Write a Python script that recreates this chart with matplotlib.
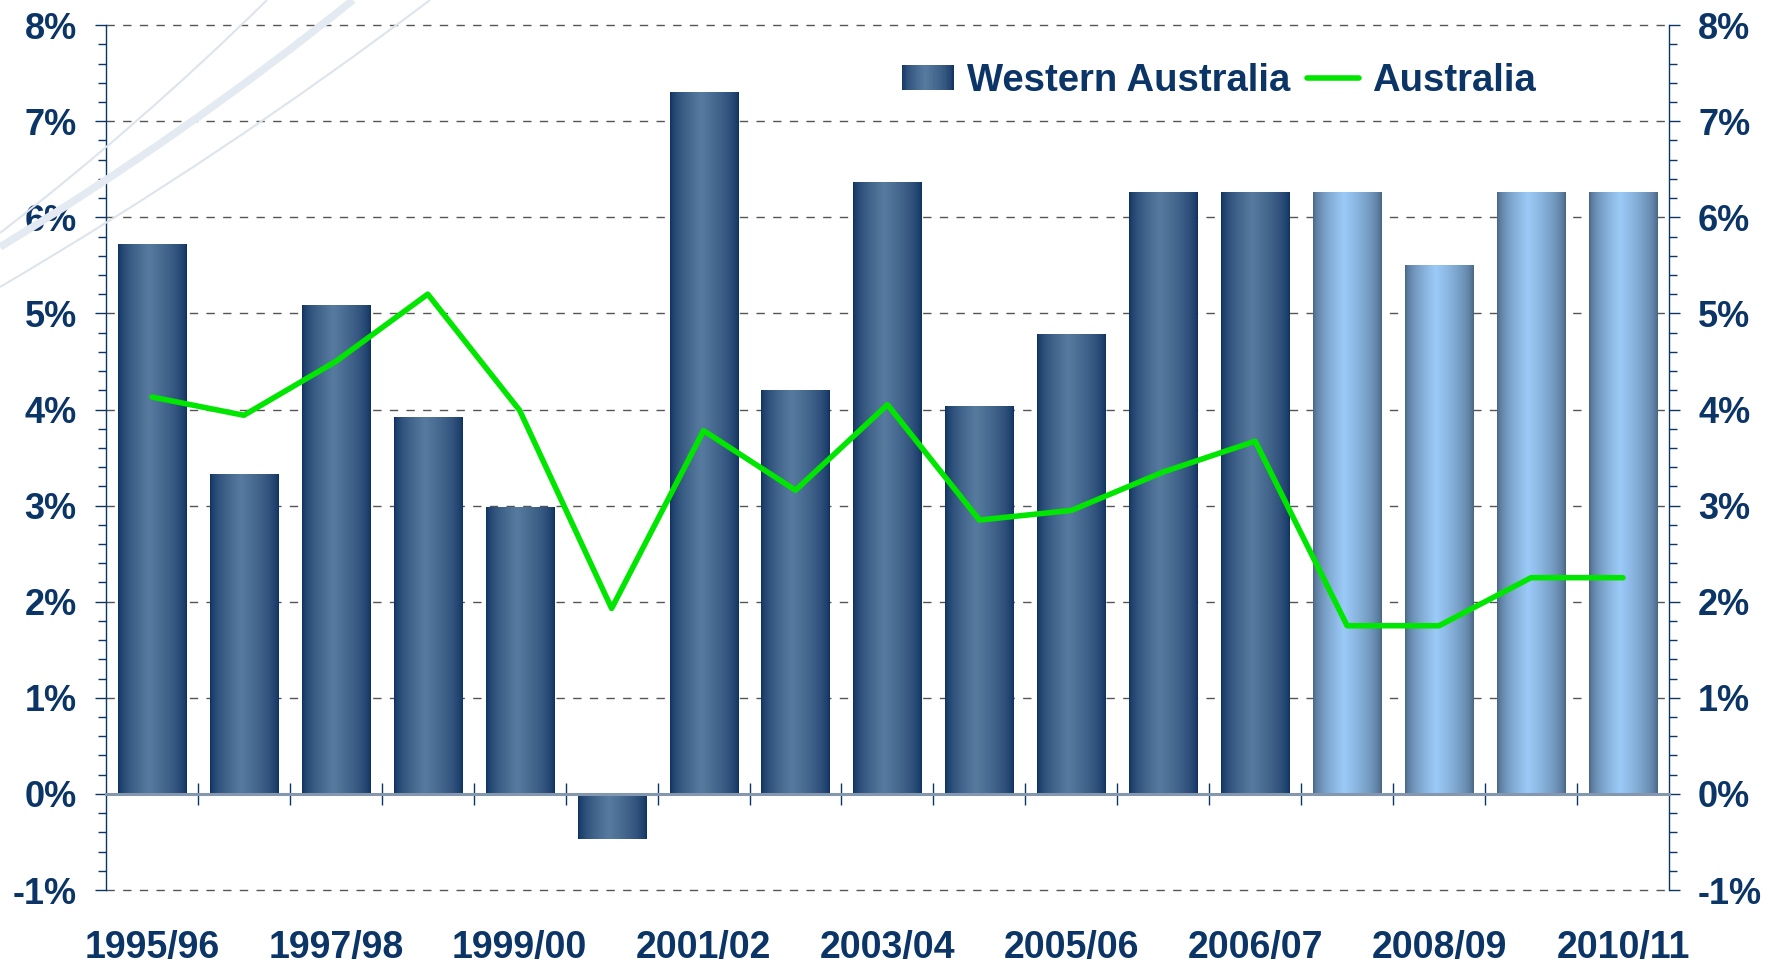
"""
Western Australia vs Australia economic growth chart
"""

import numpy as np
import matplotlib
matplotlib.use("Agg")
import matplotlib.pyplot as plt
from matplotlib.colors import LinearSegmentedColormap
from matplotlib.patches import Rectangle, PathPatch
from matplotlib.lines import Line2D
from matplotlib.path import Path
from matplotlib.legend_handler import HandlerBase

plt.rcParams["font.family"] = ["Liberation Sans", "DejaVu Sans"]
plt.rcParams["font.weight"] = "bold"

# Data (percent growth per financial year)
years = ["1995/96", "1996/97", "1997/98", "1998/99", "1999/00", "2000/01",
         "2001/02", "2002/03", "2003/04", "2004/05", "2005/06", "2006/07",
         "2007/08", "2008/09", "2009/10", "2010/11", "2011/12"]
wa_growth = [5.72, 3.33, 5.09, 3.92, 2.99, -0.47, 7.30, 4.20, 6.37, 4.04,
             4.79, 6.26, 6.26, 6.26, 5.50, 6.26, 6.26]
aus_growth = [4.13, 3.94, 4.50, 5.20, 3.99, 1.93, 3.78, 3.16, 4.05, 2.85,
              2.95, 3.35, 3.67, 1.75, 1.75, 2.25, 2.25]
forecast = [False] * 13 + [True] * 4
x_labels = ["1995/96", "1997/98", "1999/00", "2001/02", "2003/04",
            "2005/06", "2006/07", "2008/09", "2010/11"]
y_ticks = list(range(-1, 9))

NAVY = "#0b3467"
GREEN = "#00e600"

dark_cmap = LinearSegmentedColormap.from_list("dark", ["#0b2d5c", "#577a9f"])
light_cmap = LinearSegmentedColormap.from_list("light", ["#44607e", "#9bcaf8"])


def profile(t):
    # brightness across a bar: dark edges, light just left of centre
    t = np.asarray(t, dtype=float)
    peak = 0.45
    v = np.where(t < peak, t / peak, (1 - t) / (1 - peak))
    return np.clip(v, 0, 1) ** 0.55


fig = plt.figure(figsize=(17.84, 9.65), dpi=100, facecolor="white")

# faint decorative swooshes in the top-left corner (pixel coords)
W, H = 1784, 965
def swoosh(p0, p1, p2, lw, color):
    verts = [(p[0] / W, 1 - p[1] / H) for p in (p0, p1, p2)]
    path = Path(verts, [Path.MOVETO, Path.CURVE3, Path.CURVE3])
    fig.patches.append(PathPatch(path, transform=fig.transFigure, fill=False,
                                 edgecolor=color, linewidth=lw, zorder=0))

swoosh((0, 233), (140, 125), (267, 0), 1.5, "#dde4ec")
swoosh((0, 247), (185, 135), (353, 0), 5.5, "#e4eaf1")
swoosh((0, 287), (225, 155), (430, 0), 1.5, "#dde4ec")

ax = fig.add_axes([0.0594, 0.0777, 0.8761, 0.8963])
ax.patch.set_alpha(0)

x = np.arange(len(years))
bars = ax.bar(x, wa_growth, width=0.74, color="none", edgecolor="none", zorder=2)

grad = profile(np.linspace(0, 1, 256)).reshape(1, -1)
for bar, fc in zip(bars, forecast):
    x0, y0 = bar.get_x(), bar.get_y()
    w, h = bar.get_width(), bar.get_height()
    im = ax.imshow(grad, extent=[x0, x0 + w, min(y0, y0 + h), max(y0, y0 + h)],
                   aspect="auto", cmap=light_cmap if fc else dark_cmap,
                   vmin=0, vmax=1, zorder=2, interpolation="bilinear")
    im.set_clip_path(bar)

ax.plot(x, aus_growth, color=GREEN, lw=4, zorder=4, solid_capstyle="round")

ax.set_aspect("auto")
ax.set_xlim(-0.5, len(years) - 0.5)
ax.set_ylim(-1, 8)

# y axes on both sides
ax.set_yticks(y_ticks)
ax.set_yticklabels([f"{v}%" for v in y_ticks])
ax.set_yticks(np.arange(-1, 8.01, 0.2), minor=True)
ax.yaxis.set_ticks_position("both")
ax.tick_params(axis="y", which="major", length=8, width=1, color=NAVY, pad=13,
               labelsize=26, labelcolor=NAVY, labelright=True, direction="out")
ax.tick_params(axis="y", which="minor", length=5.5, width=1, color=NAVY, direction="out")

ax.grid(axis="y", which="major", linestyle=(0, (6, 6)), color="#555555", lw=1)
ax.set_axisbelow(True)
for gl in ax.get_ygridlines():
    gl.set_clip_on(False)

# x labels every second year
ax.set_xticks(x[::2])
ax.set_xticklabels(x_labels, fontsize=27, fontweight="bold", color=NAVY)
ax.tick_params(axis="x", length=0, pad=29)

for side in ["top", "bottom"]:
    ax.spines[side].set_visible(False)
for side in ["left", "right"]:
    ax.spines[side].set_color(NAVY)
    ax.spines[side].set_linewidth(1)

# zero line with category separators
sec = ax.secondary_xaxis(1 / 9)
sec.set_xticks(x[:-1] + 0.5)
sec.tick_params(axis="x", direction="inout", length=16, width=1, color=NAVY,
                labelbottom=False, labeltop=False)
sec.spines["bottom"].set_color("#8597ae")
sec.spines["bottom"].set_linewidth(2.2)
sec.set_zorder(5)


class GradientHandler(HandlerBase):
    def create_artists(self, legend, orig_handle, xdescent, ydescent, width, height, fontsize, trans):
        n = 40
        arts = []
        for i in range(n):
            c = dark_cmap(float(profile((i + 0.5) / n)))
            arts.append(Rectangle((-xdescent + width * i / n, -ydescent), width / n * 1.1, height,
                                  facecolor=c, edgecolor="none", transform=trans))
        return arts


wa_handle = Rectangle((0, 0), 1, 1)
aus_handle = Line2D([], [], color=GREEN, lw=4, solid_capstyle="round")
leg = fig.legend([wa_handle, aus_handle], ["Western Australia", "Australia"],
                 handler_map={Rectangle: GradientHandler()},
                 loc="center left", bbox_to_anchor=(0.5056, 0.916), ncol=2,
                 frameon=False, borderpad=0, borderaxespad=0, handlelength=1.35,
                 handleheight=0.6, handletextpad=0.35, columnspacing=0.45,
                 prop={"weight": "bold", "size": 27.5})
for t in leg.get_texts():
    t.set_color(NAVY)

fig.savefig("out.png", dpi=100, facecolor="white")
plt.close(fig)
